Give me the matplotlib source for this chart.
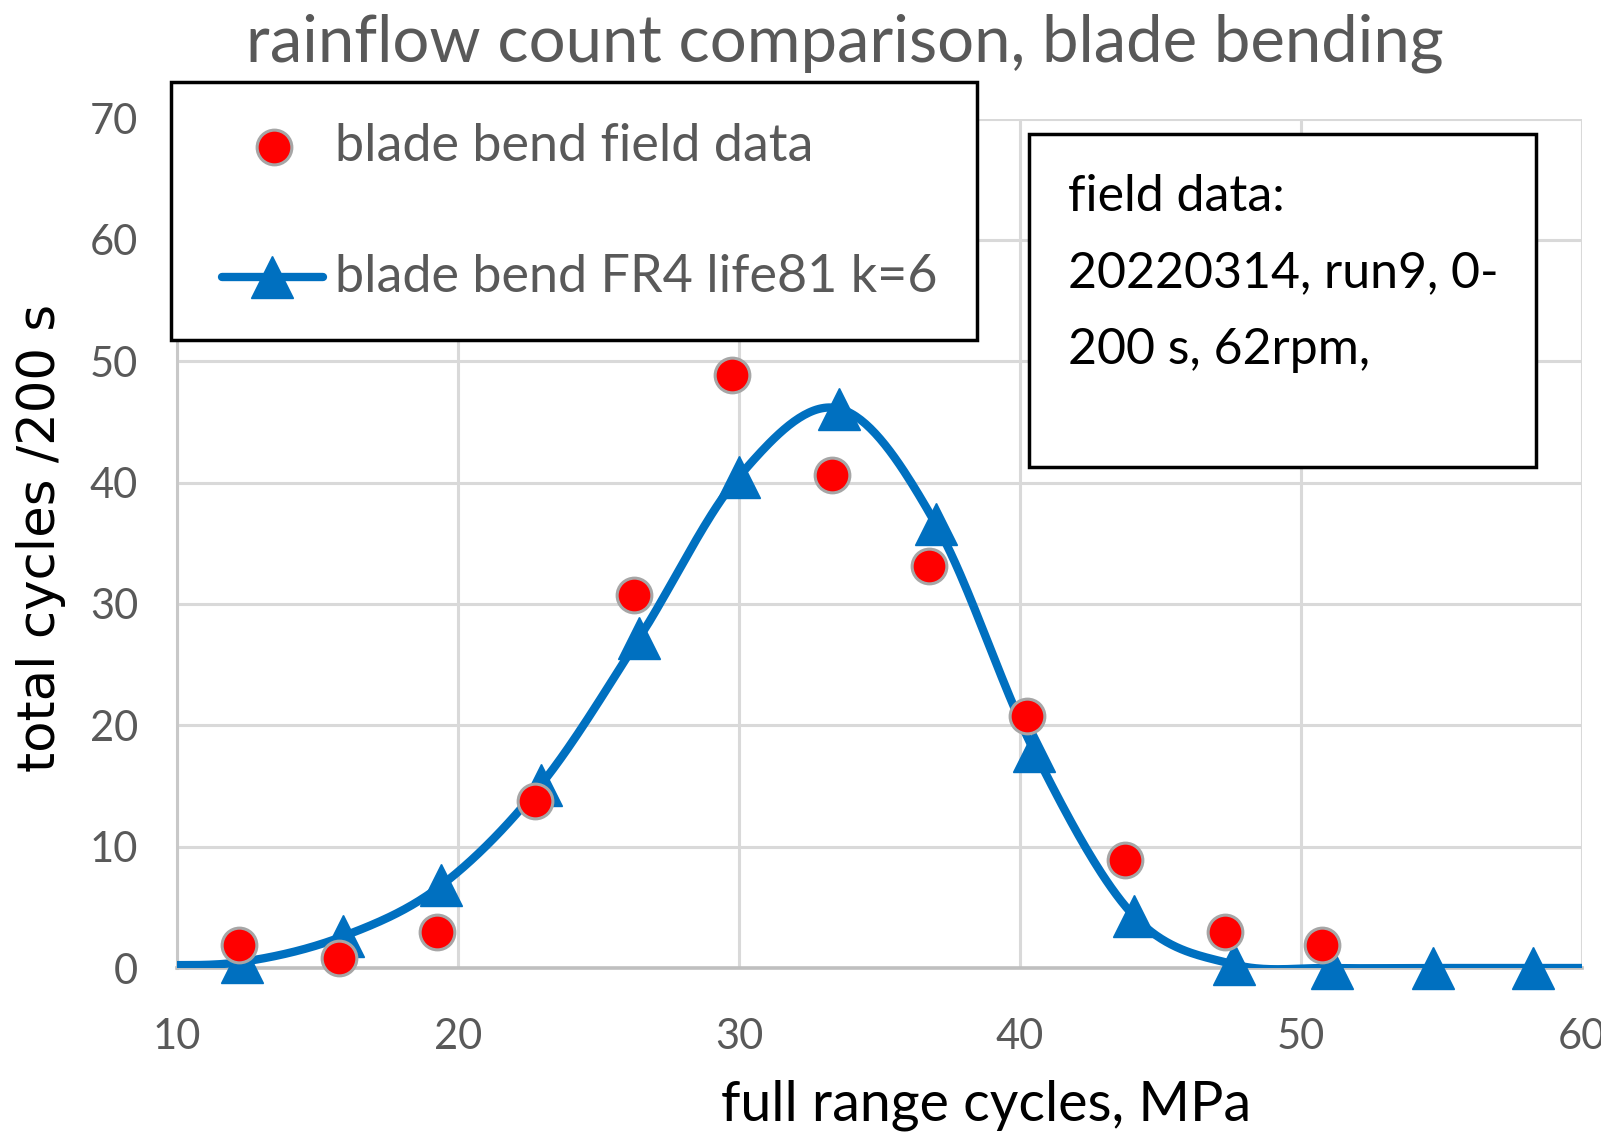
import numpy as np
import matplotlib
matplotlib.use("Agg")
import matplotlib.pyplot as plt
from matplotlib.lines import Line2D
from matplotlib.patches import Rectangle

# ---- data ----
field_x = [12.2, 15.75, 19.25, 22.75, 26.25, 29.75, 33.3, 36.75, 40.25, 43.75, 47.3, 50.75]
field_y = [1.9, 0.8, 3.0, 13.8, 30.7, 48.9, 40.6, 33.1, 20.8, 8.9, 3.0, 1.9]

fit_x = [8.8, 12.3, 15.9, 19.4, 22.95, 26.45, 30.0, 33.55, 37.0, 40.5, 44.05, 47.6, 51.1, 54.7, 58.25, 61.8]
fit_y = [0.2, 0.5, 2.6, 6.8, 15.1, 27.2, 40.5, 46.1, 36.6, 17.9, 4.3, 0.3, 0.0, 0.0, 0.0, 0.0]

x_ticks = [10, 20, 30, 40, 50, 60]
y_ticks = [0, 10, 20, 30, 40, 50, 60, 70]

title = "rainflow count comparison, blade bending"
xlabel = "full range cycles, MPa"
ylabel = "total cycles /200 s"
legend_labels = ["blade bend field data", "blade bend FR4 life81 k=6"]
note_lines = ["field data:", "20220314, run9, 0-", "200 s, 62rpm,"]

BLUE = "#0070C0"
GREY_TXT = "#595959"
FONT = "Lato"
W, H = 1601, 1137


def fx(px):
    return px / W


def fy(py):
    return 1 - py / H


def smooth(xs, ys, n=40):
    """Catmull-Rom smoothing (like a spreadsheet 'smoothed line')."""
    xs = np.asarray(xs, float)
    ys = np.asarray(ys, float)
    px = np.concatenate([[2 * xs[0] - xs[1]], xs, [2 * xs[-1] - xs[-2]]])
    py = np.concatenate([[2 * ys[0] - ys[1]], ys, [2 * ys[-1] - ys[-2]]])
    ox, oy = [], []
    t = np.linspace(0, 1, n, endpoint=False)
    for i in range(1, len(px) - 2):
        p0x, p1x, p2x, p3x = px[i - 1:i + 3]
        p0y, p1y, p2y, p3y = py[i - 1:i + 3]
        c1x, c1y = p1x + (p2x - p0x) / 6, p1y + (p2y - p0y) / 6
        c2x, c2y = p2x - (p3x - p1x) / 6, p2y - (p3y - p1y) / 6
        bx = (1 - t) ** 3 * p1x + 3 * (1 - t) ** 2 * t * c1x + 3 * (1 - t) * t ** 2 * c2x + t ** 3 * p2x
        by = (1 - t) ** 3 * p1y + 3 * (1 - t) ** 2 * t * c1y + 3 * (1 - t) * t ** 2 * c2y + t ** 3 * p2y
        ox.extend(bx)
        oy.extend(by)
    ox.append(xs[-1])
    oy.append(ys[-1])
    return np.array(ox), np.array(oy)


fig = plt.figure(figsize=(16.01, 11.37), dpi=100)
ax = fig.add_axes([fx(177), fy(968), fx(1582) - fx(177), fy(118.5) - fy(968)])

ax.set_xlim(10, 60)
ax.set_ylim(0, 70)
ax.set_xticks(x_ticks)
ax.set_yticks(y_ticks)
ax.grid(True, color="#D9D9D9", linewidth=2.2)
ax.set_axisbelow(True)
for s in ["top", "right"]:
    ax.spines[s].set_visible(False)
ax.spines["left"].set_color("#C8C8C8")
ax.spines["bottom"].set_color("#BFBFBF")
ax.spines["left"].set_linewidth(2.2)
ax.spines["bottom"].set_linewidth(2.6)
ax.tick_params(length=0, labelsize=30, labelcolor=GREY_TXT)
ax.tick_params(axis="y", pad=28)
ax.tick_params(axis="x", pad=36)
for lab in ax.get_xticklabels() + ax.get_yticklabels():
    lab.set_fontfamily(FONT)

sx, sy = smooth(fit_x, fit_y)
ax.plot(sx, sy, color=BLUE, linewidth=6, solid_capstyle="round", zorder=3)
fx_arr = np.asarray(fit_x)
fy_arr = np.asarray(fit_y)
inside = (fx_arr >= 10) & (fx_arr <= 60)
ax.plot(fx_arr[inside], fy_arr[inside], linestyle="none", marker="^", markersize=30,
        color=BLUE, markeredgecolor=BLUE, zorder=4, clip_on=False)
ax.plot(field_x, field_y, linestyle="none", marker="o", markersize=25,
        markerfacecolor="#FF0000", markeredgecolor="#A6A6A6",
        markeredgewidth=2.2, zorder=5, clip_on=False)

fig.text(fx(986), fy(1105), xlabel, ha="center", va="center", fontsize=40,
         fontfamily=FONT, color="black")
fig.text(fx(41), fy(538), ylabel, ha="center", va="center", rotation=90,
         fontsize=37, fontfamily="DejaVu Sans", color="black")
fig.text(fx(845), fy(43), title, ha="center", va="center", fontsize=47,
         color=GREY_TXT, fontfamily=FONT)

# legend (manual, figure coordinates)
fig.patches.append(Rectangle((fx(170.5), fy(340)), fx(977) - fx(170.5), fy(81.7) - fy(340),
                             transform=fig.transFigure, facecolor="white",
                             edgecolor="black", linewidth=2.5, zorder=10))
fig.add_artist(Line2D([fx(274)], [fy(147)], transform=fig.transFigure, linestyle="none",
                      marker="o", markersize=25, markerfacecolor="#FF0000",
                      markeredgecolor="#A6A6A6", markeredgewidth=2.2, zorder=11))
fig.add_artist(Line2D([fx(222), fx(323)], [fy(277), fy(277)], transform=fig.transFigure,
                      color=BLUE, linewidth=6, solid_capstyle="round", zorder=11))
fig.add_artist(Line2D([fx(272)], [fy(277)], transform=fig.transFigure, linestyle="none",
                      marker="^", markersize=30, color=BLUE, zorder=12))
for i, lab in enumerate(legend_labels):
    fig.text(fx(335), fy(147 + 130 * i), lab, ha="left", va="center", fontsize=37.5,
             fontfamily=FONT, color=GREY_TXT, zorder=12)

# note box
fig.patches.append(Rectangle((fx(1029), fy(467)), fx(1536) - fx(1029), fy(134) - fy(467),
                             transform=fig.transFigure, facecolor="white",
                             edgecolor="black", linewidth=2.5, zorder=10))
for i, line in enumerate(note_lines):
    fig.text(fx(1068), fy(197 + 76.5 * i), line, ha="left", va="center",
             fontsize=36, fontfamily=FONT, color="black", zorder=11)

fig.savefig("out.png", dpi=100)
